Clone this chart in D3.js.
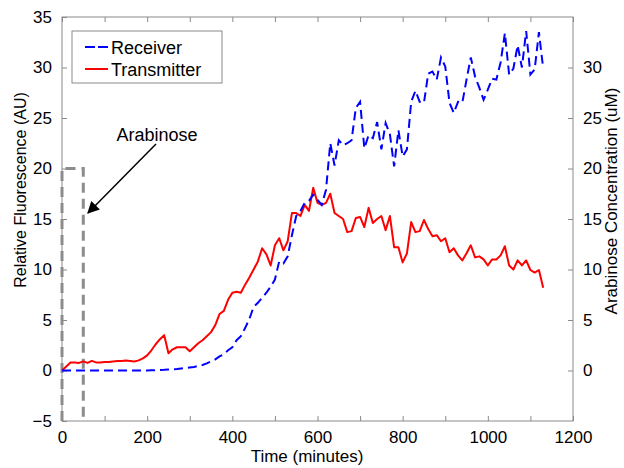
<!DOCTYPE html>
<html><head><meta charset="utf-8">
<script src="https://cdn.jsdelivr.net/npm/d3@7"></script>
<style>body{margin:0;background:#fff;} svg{display:block;} text{font-family:"Liberation Sans",Arial,Helvetica,sans-serif;}</style>
</head><body><svg id="c" width="624" height="468"></svg>
<script>
const time = d3.range(0, 1131, 10);
const transmitter = [0,0.4,0.8,0.8,0.75,0.9,0.75,0.95,0.8,0.8,
0.85,0.85,0.9,0.95,0.95,1.0,0.95,0.9,1.0,1.2,
1.5,2.0,2.6,3.1,3.5,1.7,2.1,2.3,2.3,2.3,
1.9,2.3,2.7,3.0,3.4,3.8,4.5,5.6,5.9,7.0,
7.7,7.8,7.7,8.5,9.2,10.0,10.8,12.1,11.5,10.4,
12.4,13.1,11.9,12.8,15.6,15.6,15.3,16.4,15.8,18.1,
16.6,16.4,16.6,17.5,15.6,15.3,15.0,13.7,13.8,15.1,
15.2,14.2,16.1,14.6,15.0,15.3,13.9,15.3,12.2,12.2,
10.7,11.6,14.7,13.7,13.8,14.9,14.0,13.3,13.4,12.8,
13.1,11.7,12.1,11.4,10.9,11.6,12.4,11.2,11.3,11.0,
10.4,11.0,11.0,11.4,12.3,10.4,10.0,10.9,10.4,10.9,
9.95,9.7,9.95,8.2];
const receiver = [0,0,0,0,0,0,0,0,0,0,
0,0,0,0,0,0,0,0,0,0,
0,0.02,0.03,0.05,0.07,0.1,0.12,0.15,0.2,0.25,
0.3,0.35,0.45,0.55,0.7,0.9,1.1,1.4,1.6,2.0,
2.3,3.0,3.4,4.2,5.1,6.3,6.7,7.2,7.7,8.3,
9.0,10.8,10.6,11.3,13.4,15.3,15.8,16.6,16.8,17.4,
16.9,16.4,17.9,22.5,20.3,22.8,22.3,22.5,22.8,26.0,
26.6,22.0,23.3,23.0,24.6,21.9,24.5,23.4,20.2,23.8,
21.2,21.9,26.6,27.7,26.6,26.5,29.4,29.6,28.8,31.0,
30.1,26.5,25.5,26.6,26.5,28.8,31.0,29.1,28.0,26.8,
27.8,28.9,28.8,30.5,33.4,29.3,29.9,32.2,30.0,33.6,
29.3,29.8,33.5,29.9];
const arabTime = [0, 0, 50, 50];
const arabConc = [-5, 20, 20, -5];
const xTicks = d3.range(0, 1201, 100);
const xTickLabels = ["0","","200","","400","","600","","800","","1000","","1200"];
const yTicks = d3.range(-5, 36, 5);
const y2Ticks = d3.range(0, 31, 5);
const seriesNames = ["Receiver", "Transmitter"];

const svg = d3.select("#c");
const L = 62, R = 573, T = 17, B = 421;
const x = d3.scaleLinear().domain([0, 1200]).range([L, R]);
const y = d3.scaleLinear().domain([-5, 35]).range([B, T]);
const y2 = d3.scaleLinear().domain([-5, 35]).range([B, T]);
const axisColor = "#8a8a8a";

// frame
svg.append("rect").attr("x", L).attr("y", T).attr("width", R - L).attr("height", B - T)
  .attr("fill", "none").attr("stroke", axisColor).attr("stroke-width", 1);

function styleAxis(g) {
  g.select(".domain").remove();
  g.selectAll(".tick line").attr("stroke", axisColor);
  g.selectAll(".tick text").attr("fill", "#000").attr("font-size", 17)
    .attr("font-family", '"Liberation Sans",Arial,sans-serif');
}
// bottom
svg.append("g").attr("transform", `translate(0,${B})`)
  .call(d3.axisBottom(x).tickValues(xTicks).tickFormat((d, i) => xTickLabels[i]).tickSizeInner(-5).tickSizeOuter(0).tickPadding(10))
  .call(styleAxis);
// top
svg.append("g").attr("transform", `translate(0,${T})`)
  .call(d3.axisTop(x).tickValues(xTicks).tickFormat("").tickSizeInner(-5).tickSizeOuter(0))
  .call(styleAxis);
// left
svg.append("g").attr("transform", `translate(${L},0)`)
  .call(d3.axisLeft(y).tickValues(yTicks).tickFormat(d => d < 0 ? "\u2212" + (-d) : d).tickSizeInner(-5).tickSizeOuter(0).tickPadding(10))
  .call(styleAxis);
// right
svg.append("g").attr("transform", `translate(${R},0)`)
  .call(d3.axisRight(y2).tickValues(y2Ticks).tickSizeInner(-5).tickSizeOuter(0).tickPadding(10))
  .call(styleAxis);

// arabinose
const arab = arabTime.map((t, i) => [t, arabConc[i]]);
svg.append("path").datum(arab)
  .attr("d", d3.line().x(d => x(d[0])).y(d => y2(d[1])))
  .attr("fill", "none").attr("stroke", "#8c8c8c").attr("stroke-width", 3).attr("stroke-dasharray", "10,6");

const line = d3.line().x((d, i) => x(time[i])).y(d => y(d));
svg.append("path").datum(transmitter).attr("d", line)
  .attr("fill", "none").attr("stroke", "#ff0000").attr("stroke-width", 2).attr("stroke-linejoin", "round");
svg.append("path").datum(receiver).attr("d", line)
  .attr("fill", "none").attr("stroke", "#0000ff").attr("stroke-width", 2).attr("stroke-dasharray", "9,5");

// annotation
svg.append("defs").append("marker").attr("id", "ah").attr("viewBox", "0 0 10 10")
  .attr("refX", 9).attr("refY", 5).attr("markerWidth", 16).attr("markerHeight", 12)
  .attr("markerUnits", "userSpaceOnUse").attr("orient", "auto")
  .append("path").attr("d", "M0,0 L10,5 L0,10 z").attr("fill", "#000");
svg.append("line").attr("x1", 156).attr("y1", 144).attr("x2", 88).attr("y2", 213)
  .attr("stroke", "#000").attr("stroke-width", 1.5).attr("marker-end", "url(#ah)");
svg.append("text").attr("x", 157).attr("y", 141).attr("text-anchor", "middle")
  .attr("font-size", 18).text("Arabinose");

// legend
const lg = svg.append("g");
lg.append("rect").attr("x", 72).attr("y", 31).attr("width", 150).attr("height", 52)
  .attr("fill", "#fff").attr("stroke", axisColor);
const legStyles = [{c: "#0000ff", dash: "10,3"}, {c: "#ff0000", dash: null}];
seriesNames.forEach((n, i) => {
  const yy = 47 + i * 22;
  const l = lg.append("line").attr("x1", 85).attr("x2", 108).attr("y1", yy).attr("y2", yy)
    .attr("stroke", legStyles[i].c).attr("stroke-width", 2);
  if (legStyles[i].dash) l.attr("stroke-dasharray", legStyles[i].dash);
  lg.append("text").attr("x", 111).attr("y", yy + 6.5).attr("font-size", 18).text(n);
});

// axis titles
svg.append("text").attr("transform", "translate(26,190) rotate(-90)").attr("text-anchor", "middle")
  .attr("font-size", 16).text("Relative Fluorescence (AU)");
svg.append("text").attr("transform", "translate(617,201) rotate(-90)").attr("text-anchor", "middle")
  .attr("font-size", 17).text("Arabinose Concentration (uM)");
svg.append("text").attr("x", 307).attr("y", 462).attr("text-anchor", "middle")
  .attr("font-size", 17).text("Time (minutes)");
</script></body></html>
